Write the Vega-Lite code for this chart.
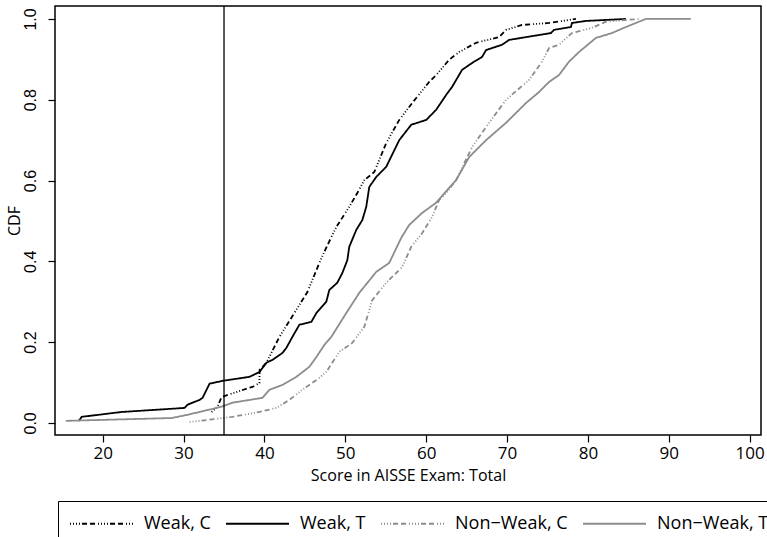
{
  "$schema": "https://vega.github.io/schema/vega-lite/v6.json",
  "autosize": {"type": "none"},
  "width": 706,
  "height": 429,
  "padding": {"left": 55, "top": 6, "right": 6, "bottom": 102},
  "background": "white",
  "config": {
    "view": {"stroke": "#000000", "strokeWidth": 1.5},
    "axis": {"domain": false, "grid": false, "tickColor": "#000000", "tickSize": 7, "tickWidth": 1.2, "labelColor": "#000000", "titleColor": "#000000", "titleFontWeight": "normal"}
  },
  "layer": [
    {
      "data": {"values": [
        {"g": "Weak, T", "x": 17.04, "y": 0.005}, {"g": "Weak, T", "x": 17.41, "y": 0.015}, {"g": "Weak, T", "x": 22.35, "y": 0.027}, {"g": "Weak, T", "x": 30.12, "y": 0.037}, {"g": "Weak, T", "x": 30.49, "y": 0.045}, {"g": "Weak, T", "x": 31.98, "y": 0.057}, {"g": "Weak, T", "x": 32.35, "y": 0.062}, {"g": "Weak, T", "x": 33.21, "y": 0.097}, {"g": "Weak, T", "x": 34.81, "y": 0.104}, {"g": "Weak, T", "x": 38.15, "y": 0.114}, {"g": "Weak, T", "x": 39.38, "y": 0.126}, {"g": "Weak, T", "x": 40.25, "y": 0.149}, {"g": "Weak, T", "x": 40.99, "y": 0.156}, {"g": "Weak, T", "x": 42.22, "y": 0.173}, {"g": "Weak, T", "x": 42.72, "y": 0.186}, {"g": "Weak, T", "x": 43.46, "y": 0.213}, {"g": "Weak, T", "x": 44.32, "y": 0.243}, {"g": "Weak, T", "x": 45.8, "y": 0.25}, {"g": "Weak, T", "x": 46.42, "y": 0.272}, {"g": "Weak, T", "x": 47.65, "y": 0.3}, {"g": "Weak, T", "x": 48.02, "y": 0.329}, {"g": "Weak, T", "x": 49.01, "y": 0.347}, {"g": "Weak, T", "x": 49.63, "y": 0.371}, {"g": "Weak, T", "x": 50.25, "y": 0.403}, {"g": "Weak, T", "x": 50.49, "y": 0.436}, {"g": "Weak, T", "x": 51.36, "y": 0.478}, {"g": "Weak, T", "x": 52.1, "y": 0.502}, {"g": "Weak, T", "x": 52.59, "y": 0.535}, {"g": "Weak, T", "x": 52.96, "y": 0.584}, {"g": "Weak, T", "x": 53.83, "y": 0.609}, {"g": "Weak, T", "x": 55.06, "y": 0.634}, {"g": "Weak, T", "x": 56.67, "y": 0.7}, {"g": "Weak, T", "x": 58.15, "y": 0.738}, {"g": "Weak, T", "x": 60.0, "y": 0.75}, {"g": "Weak, T", "x": 61.23, "y": 0.775}, {"g": "Weak, T", "x": 62.47, "y": 0.812}, {"g": "Weak, T", "x": 63.21, "y": 0.832}, {"g": "Weak, T", "x": 64.44, "y": 0.874}, {"g": "Weak, T", "x": 65.68, "y": 0.891}, {"g": "Weak, T", "x": 66.91, "y": 0.906}, {"g": "Weak, T", "x": 67.41, "y": 0.923}, {"g": "Weak, T", "x": 69.38, "y": 0.936}, {"g": "Weak, T", "x": 70.25, "y": 0.948}, {"g": "Weak, T", "x": 72.35, "y": 0.955}, {"g": "Weak, T", "x": 75.43, "y": 0.965}, {"g": "Weak, T", "x": 75.8, "y": 0.973}, {"g": "Weak, T", "x": 77.9, "y": 0.98}, {"g": "Weak, T", "x": 78.02, "y": 0.99}, {"g": "Weak, T", "x": 79.75, "y": 0.995}, {"g": "Weak, T", "x": 84.69, "y": 1.0},
        {"g": "Weak, C", "x": 33.46, "y": 0.027}, {"g": "Weak, C", "x": 34.2, "y": 0.04}, {"g": "Weak, C", "x": 34.69, "y": 0.064}, {"g": "Weak, C", "x": 38.15, "y": 0.087}, {"g": "Weak, C", "x": 38.52, "y": 0.089}, {"g": "Weak, C", "x": 39.38, "y": 0.099}, {"g": "Weak, C", "x": 39.4, "y": 0.131}, {"g": "Weak, C", "x": 40.25, "y": 0.149}, {"g": "Weak, C", "x": 41.85, "y": 0.213}, {"g": "Weak, C", "x": 43.7, "y": 0.272}, {"g": "Weak, C", "x": 45.31, "y": 0.324}, {"g": "Weak, C", "x": 47.04, "y": 0.408}, {"g": "Weak, C", "x": 48.27, "y": 0.46}, {"g": "Weak, C", "x": 48.89, "y": 0.485}, {"g": "Weak, C", "x": 50.49, "y": 0.535}, {"g": "Weak, C", "x": 51.48, "y": 0.569}, {"g": "Weak, C", "x": 52.35, "y": 0.601}, {"g": "Weak, C", "x": 53.58, "y": 0.621}, {"g": "Weak, C", "x": 55.06, "y": 0.693}, {"g": "Weak, C", "x": 56.67, "y": 0.75}, {"g": "Weak, C", "x": 58.27, "y": 0.792}, {"g": "Weak, C", "x": 60.37, "y": 0.844}, {"g": "Weak, C", "x": 61.23, "y": 0.861}, {"g": "Weak, C", "x": 62.84, "y": 0.899}, {"g": "Weak, C", "x": 64.07, "y": 0.918}, {"g": "Weak, C", "x": 66.17, "y": 0.941}, {"g": "Weak, C", "x": 69.01, "y": 0.955}, {"g": "Weak, C", "x": 69.88, "y": 0.973}, {"g": "Weak, C", "x": 71.85, "y": 0.985}, {"g": "Weak, C", "x": 75.19, "y": 0.99}, {"g": "Weak, C", "x": 78.52, "y": 1.0},
        {"g": "Non−Weak, T", "x": 15.43, "y": 0.005}, {"g": "Non−Weak, T", "x": 28.52, "y": 0.012}, {"g": "Non−Weak, T", "x": 30.49, "y": 0.02}, {"g": "Non−Weak, T", "x": 34.69, "y": 0.04}, {"g": "Non−Weak, T", "x": 36.05, "y": 0.05}, {"g": "Non−Weak, T", "x": 39.75, "y": 0.062}, {"g": "Non−Weak, T", "x": 40.62, "y": 0.082}, {"g": "Non−Weak, T", "x": 42.22, "y": 0.094}, {"g": "Non−Weak, T", "x": 43.95, "y": 0.114}, {"g": "Non−Weak, T", "x": 45.56, "y": 0.139}, {"g": "Non−Weak, T", "x": 46.42, "y": 0.163}, {"g": "Non−Weak, T", "x": 47.41, "y": 0.193}, {"g": "Non−Weak, T", "x": 48.27, "y": 0.213}, {"g": "Non−Weak, T", "x": 50.12, "y": 0.272}, {"g": "Non−Weak, T", "x": 51.73, "y": 0.322}, {"g": "Non−Weak, T", "x": 53.83, "y": 0.374}, {"g": "Non−Weak, T", "x": 55.43, "y": 0.396}, {"g": "Non−Weak, T", "x": 56.91, "y": 0.458}, {"g": "Non−Weak, T", "x": 57.9, "y": 0.49}, {"g": "Non−Weak, T", "x": 59.51, "y": 0.52}, {"g": "Non−Weak, T", "x": 61.23, "y": 0.545}, {"g": "Non−Weak, T", "x": 62.84, "y": 0.582}, {"g": "Non−Weak, T", "x": 63.7, "y": 0.601}, {"g": "Non−Weak, T", "x": 65.31, "y": 0.658}, {"g": "Non−Weak, T", "x": 67.41, "y": 0.7}, {"g": "Non−Weak, T", "x": 69.88, "y": 0.743}, {"g": "Non−Weak, T", "x": 72.35, "y": 0.792}, {"g": "Non−Weak, T", "x": 73.95, "y": 0.819}, {"g": "Non−Weak, T", "x": 75.19, "y": 0.844}, {"g": "Non−Weak, T", "x": 76.42, "y": 0.861}, {"g": "Non−Weak, T", "x": 77.65, "y": 0.894}, {"g": "Non−Weak, T", "x": 78.89, "y": 0.918}, {"g": "Non−Weak, T", "x": 80.99, "y": 0.953}, {"g": "Non−Weak, T", "x": 82.96, "y": 0.965}, {"g": "Non−Weak, T", "x": 84.69, "y": 0.98}, {"g": "Non−Weak, T", "x": 86.3, "y": 0.993}, {"g": "Non−Weak, T", "x": 87.16, "y": 1.0}, {"g": "Non−Weak, T", "x": 92.72, "y": 1.0},
        {"g": "Non−Weak, C", "x": 30.74, "y": 0.002}, {"g": "Non−Weak, C", "x": 34.07, "y": 0.01}, {"g": "Non−Weak, C", "x": 36.05, "y": 0.015}, {"g": "Non−Weak, C", "x": 39.38, "y": 0.027}, {"g": "Non−Weak, C", "x": 41.48, "y": 0.037}, {"g": "Non−Weak, C", "x": 43.09, "y": 0.057}, {"g": "Non−Weak, C", "x": 44.69, "y": 0.082}, {"g": "Non−Weak, C", "x": 46.42, "y": 0.106}, {"g": "Non−Weak, C", "x": 47.65, "y": 0.126}, {"g": "Non−Weak, C", "x": 49.26, "y": 0.176}, {"g": "Non−Weak, C", "x": 50.86, "y": 0.198}, {"g": "Non−Weak, C", "x": 52.35, "y": 0.238}, {"g": "Non−Weak, C", "x": 53.33, "y": 0.304}, {"g": "Non−Weak, C", "x": 55.06, "y": 0.347}, {"g": "Non−Weak, C", "x": 57.04, "y": 0.386}, {"g": "Non−Weak, C", "x": 58.15, "y": 0.436}, {"g": "Non−Weak, C", "x": 59.51, "y": 0.47}, {"g": "Non−Weak, C", "x": 60.74, "y": 0.51}, {"g": "Non−Weak, C", "x": 61.6, "y": 0.552}, {"g": "Non−Weak, C", "x": 62.47, "y": 0.569}, {"g": "Non−Weak, C", "x": 63.7, "y": 0.601}, {"g": "Non−Weak, C", "x": 65.68, "y": 0.683}, {"g": "Non−Weak, C", "x": 67.78, "y": 0.743}, {"g": "Non−Weak, C", "x": 69.88, "y": 0.8}, {"g": "Non−Weak, C", "x": 72.72, "y": 0.849}, {"g": "Non−Weak, C", "x": 74.32, "y": 0.894}, {"g": "Non−Weak, C", "x": 75.19, "y": 0.928}, {"g": "Non−Weak, C", "x": 76.42, "y": 0.936}, {"g": "Non−Weak, C", "x": 78.02, "y": 0.965}, {"g": "Non−Weak, C", "x": 80.49, "y": 0.978}, {"g": "Non−Weak, C", "x": 82.22, "y": 0.993}, {"g": "Non−Weak, C", "x": 86.3, "y": 1.0}
      ]},
      "mark": {"type": "line", "strokeWidth": 1.8, "interpolate": "linear"},
      "encoding": {
        "x": {"field": "x", "type": "quantitative", "scale": {"domain": [14.1, 101.4], "nice": false, "zero": false},
          "axis": {"values": [20, 30, 40, 50, 60, 70, 80, 90, 100], "title": "Score in AISSE Exam: Total", "labelFont": "Open Sans", "labelFontSize": 17, "labelPadding": 3, "titleFont": "Open Sans", "titleFontSize": 16, "titlePadding": 6}},
        "y": {"field": "y", "type": "quantitative", "scale": {"domain": [-0.03, 1.032], "nice": false, "zero": false},
          "axis": {"values": [0, 0.2, 0.4, 0.6, 0.8, 1.0], "format": ".1f", "title": "CDF", "labelFont": "Liberation Sans", "labelFontSize": 16, "labelAngle": -90, "labelAlign": "center", "labelBaseline": "bottom", "labelPadding": 10, "titleFont": "Open Sans", "titleFontSize": 16, "titlePadding": 0}},
        "color": {"field": "g", "type": "nominal",
          "scale": {"domain": ["Weak, C", "Weak, T", "Non−Weak, C", "Non−Weak, T"], "range": ["#000000", "#000000", "#8c8c8c", "#8c8c8c"]},
          "legend": {"title": null, "orient": "none", "legendX": 3, "legendY": 495, "direction": "horizontal", "columns": 4, "symbolType": "M-1,0H5", "symbolSize": 441, "symbolStrokeWidth": 1.8, "labelOffset": 52, "labelFont": "Open Sans", "labelFontSize": 18, "labelColor": "#000000", "columnPadding": 11, "padding": 11, "strokeColor": "#000000"}},
        "strokeDash": {"field": "g", "type": "nominal",
          "scale": {"domain": ["Weak, C", "Weak, T", "Non−Weak, C", "Non−Weak, T"], "range": [[1, 2, 1, 2, 1, 2, 1, 2, 5, 3, 5, 3], [1, 0], [1, 2, 1, 2, 1, 2, 1, 2, 5, 3, 5, 3], [1, 0]]}}
      }
    },
    {
      "data": {"values": [{"x": 35}]},
      "mark": {"type": "rule", "color": "#000000", "strokeWidth": 1.3},
      "encoding": {"x": {"field": "x", "type": "quantitative"}}
    }
  ]
}
